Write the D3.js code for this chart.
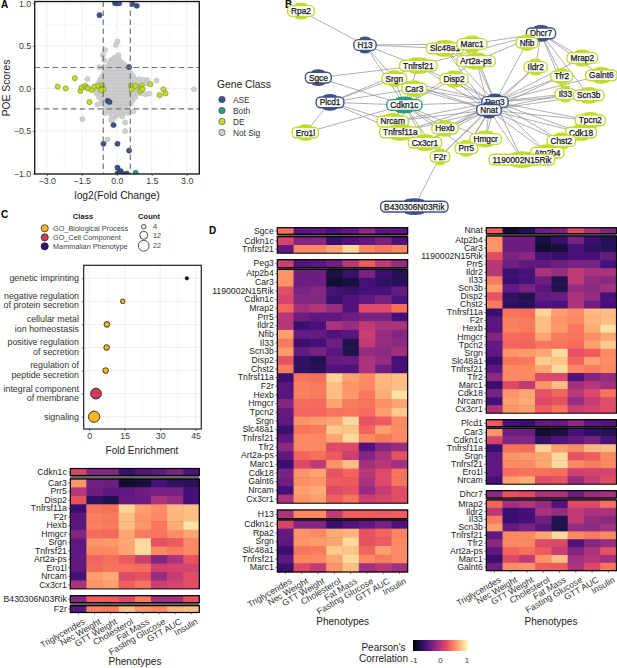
<!DOCTYPE html>
<html lang="en">
<head>
<meta charset="utf-8">
<script src="https://d3js.org/d3.v7.min.js"></script>
<style>
  body { margin: 0; background: #fff; }
  text { font-family: "Liberation Sans", Arial, sans-serif; }
</style>
</head>
<body>
<script>
var width = 617, height = 668;

// ---------- panel A data: log2 fold change, POE score
var notSig = [[3.31,-.01],[1.71,.09],[1.3,.1],[1.24,-.07],[-1.47,-.36],[-1.26,.11],[.03,.55],[-.04,.51],[-.5,.45],[-.6,.39],[-.53,.33],[.07,.39],[-.74,.25],[.71,-.27],[.36,-.4],[.36,-.5],[-.4,-.6],[-.24,-.37],[-.07,-.33],[-.5,-.29],[-.83,-.19],[.29,-.29],[.5,-.29],[-.18,-.36],
  [-.1,.36],[.05,.35],[-.25,.33],[-.12,.33],[.02,.32],[.12,.33],[-.3,.3],[-.18,.3],[-.05,.29],[.08,.3],[.2,.3],[.28,.29],
  [-.42,.26],[-.3,.26],[-.17,.26],[-.05,.25],[.07,.26],[.18,.26],[.3,.26],[.4,.26],
  [-.5,.22],[-.38,.22],[-.25,.22],[-.13,.22],[0,.22],[.12,.22],[.24,.22],[.36,.22],[.46,.22],
  [-.55,.18],[-.43,.18],[-.3,.18],[-.18,.18],[-.06,.18],[.06,.18],[.18,.18],[.3,.18],[.42,.18],[.52,.18],[.6,.18],
  [-.62,.14],[-.5,.14],[-.37,.14],[-.24,.14],[-.12,.14],[0,.14],[.12,.14],[.24,.14],[.36,.14],[.48,.14],[.6,.14],[.7,.14],
  [-.72,.1],[-.58,.1],[-.45,.1],[-.32,.1],[-.2,.1],[-.08,.1],[.04,.1],[.16,.1],[.28,.1],[.4,.1],[.52,.1],[.66,.1],[.78,.1],[.95,.11],[1.12,.1],
  [-.8,.06],[-.66,.06],[-.52,.06],[-.4,.06],[-.27,.06],[-.14,.06],[-.02,.06],[.1,.06],[.22,.06],[.34,.06],[.46,.06],[.6,.06],[.75,.07],[.9,.07],[1.25,.06],
  [-.85,.02],[-.72,.02],[-.5,.02],[-.36,.02],[-.22,.02],[-.1,.02],[.02,.02],[.14,.02],[.26,.02],[.38,.02],[.5,.02],[.7,.02],[.88,.02],
  [-.9,-.02],[-.75,-.02],[-.48,-.02],[-.34,-.02],[-.2,-.02],[-.07,-.02],[.05,-.02],[.17,-.02],[.29,-.02],[.41,-.02],[.53,-.02],[.72,-.02],[.9,-.03],
  [-.86,-.06],[-.72,-.06],[-.58,-.06],[-.44,-.06],[-.3,-.06],[-.17,-.06],[-.04,-.06],[.08,-.06],[.2,-.06],[.32,-.06],[.44,-.06],[.58,-.06],[.72,-.06],[.88,-.06],[1.06,-.06],[1.4,-.06],
  [-.76,-.1],[-.62,-.1],[-.48,-.1],[-.35,-.1],[-.22,-.1],[-.09,-.1],[.03,-.1],[.15,-.1],[.27,-.1],[.39,-.1],[.51,-.1],[.65,-.1],[.8,-.1],
  [-.66,-.14],[-.52,-.14],[-.2,-.14],[-.06,-.14],[.06,-.14],[.18,-.14],[.3,-.14],[.42,-.14],[.55,-.14],[.68,-.14],
  [-.6,-.18],[-.46,-.18],[-.22,-.18],[-.1,-.18],[.02,-.18],[.14,-.18],[.26,-.18],[.38,-.18],[.5,-.18],[.6,-.18],
  [-.48,-.22],[-.35,-.22],[-.22,-.22],[-.1,-.22],[.02,-.22],[.14,-.22],[.26,-.22],[.38,-.22],[.48,-.22],
  [-.36,-.26],[-.22,-.26],[-.1,-.26],[.02,-.26],[.14,-.26],[.26,-.26],[.38,-.26],
  [-.25,-.3],[-.12,-.31],[.03,-.3],[.16,-.31],[.24,-.33]];
var de = [[-2.53,.02],[-2.19,0],[-1.8,.12],[-1.56,-.03],[-1.51,.01],[-1.36,.03],[-1.29,.01],[-1.23,0],[-1.07,-.02],[-1.17,-.16],[-.96,.02],[-.79,.03],[-.63,.035],[-.63,0],[-.57,-.01],[-.67,-.02],[.61,.03],[.64,-.01],[.8,.03],[1.07,.035],[1.04,0],[1,-.03],[1.11,-.01],[1.44,.05],[2,-.01],[2.09,-.06],[1.84,-.08]];
var ase = [[-.07,1],[.03,1],[.1,1],[.67,.99],[.86,.97],[-.74,.86],[.53,.25],[-.39,-.145],[-.31,-.16],[-.14,-.43],[-.57,-.65],[.03,-.65],[.53,-.73],[.03,-.93],[.1,-.99],[.17,-.97],[.24,-1],[.43,-1],[.03,-1],[.13,-1]];
var both = [[.81,-.99]];
var xCutoffs = [-.58, .58], yCutoffs = [-.24, .245];
var classNames = ["ASE", "Both", "DE", "Not Sig"];
var classColors = ["#3f5288", "#2a9d80", "#c3dc2b", "#cfcfcf"];

// ---------- panel C data
var termNames = [["genetic imprinting"],["negative regulation","of protein secretion"],["cellular metal","ion homeostasis"],["positive regulation","of secretion"],["regulation of","peptide secretion"],["integral component","of membrane"],["signaling"]];
var termEnrichment = [41.3, 14.2, 7.5, 7.4, 7.0, 2.9, 2.1];
var termCount = [2, 4, 6, 6, 6, 22, 24];
var termClass = [2, 0, 0, 0, 0, 1, 0];
var goClasses = ["GO_Biological Process", "GO_Cell Component", "Mammalian Phenotype"];
var goColors = ["#fbb61f", "#c73e5c", "#3b0f70"];
var countLegend = [4, 12, 22];

// ---------- panel D data: Pearson correlation per phenotype
var phenotypes = ["Triglycerides","Nec Weight","GTT Weight","Cholesterol","Fat Mass","Fasting Glucose","GTT AUC","Insulin"];
var Cdkn1c   = [.15,-.25,-.25,-.62,-.5,-.42,-.3,-.52];
var Car3     = [.55,-.35,-.35,-.82,-.78,-.55,-.65,-.68];
var Prr5     = [0,-.35,-.42,-.42,-.35,-.3,-.3,-.55];
var Disp2    = [.25,-.65,-.72,-.4,-.38,-.05,-.15,-.55];
var Tnfrsf11a= [-.6,.42,.4,.82,.6,.52,.7,.72];
var F2r      = [-.45,.47,.45,.72,.55,.5,.68,.72];
var Hexb     = [-.45,.47,.45,.72,.57,.43,.65,.88];
var Hmgcr    = [-.25,.38,.37,.62,.45,.42,.53,.62];
var Srgn     = [-.42,.55,.58,.62,.85,.25,.3,.5];
var Tnfrsf21 = [-.42,.5,.5,.62,.85,.5,.45,.5];
var Art2a    = [-.42,.35,.4,.3,.1,-.25,-.05,.25];
var Ero1l    = [-.42,.38,.42,.4,.38,.12,.15,.15];
var Nrcam    = [-.55,.6,.65,.2,.25,-.15,.08,.22];
var Cx3cr1   = [-.05,.55,.6,.32,.42,.1,.15,.22];
var B430     = [-.25,.3,.3,.2,.45,-.1,-.1,.25];
var Sgce     = [.4,-.45,-.42,-.5,-.42,-.2,-.45,-.45];
var Peg3     = [.1,-.5,-.45,-.35,0,.3,.05,-.15];
var Atp2b4   = [.55,-.35,-.35,-.76,-.62,-.3,-.6,-.7];
var N15Rik   = [.22,-.3,-.22,-.55,-.62,-.55,-.55,-.4];
var Mrap2    = [.35,-.1,-.02,-.15,-.5,.2,.2,.4];
var Ildr2    = [0,-.6,-.55,-.05,-.15,.05,-.05,-.05];
var Nfib     = [.6,-.4,-.4,-.5,-.45,.1,-.15,-.25];
var Il33     = [.45,-.6,-.55,-.35,-.72,.05,-.15,-.2];
var Scn3b    = [.58,-.4,-.3,-.45,-.72,-.15,-.2,-.1];
var Chst2    = [.45,-.65,-.68,-.5,-.52,-.05,-.35,-.55];
var Tpcn2    = [-.4,.35,.35,.42,.42,.38,.6,.78];
var Slc48a1  = [-.6,.42,.45,.78,.75,.35,.6,.52];
var Tfr2     = [-.2,.5,.5,.2,.2,-.5,-.25,-.15];
var Marc1    = [-.6,.2,.05,.55,.72,-.1,0,-.1];
var Cdk18    = [-.3,.55,.62,.25,.35,0,.2,.42];
var Galnt6   = [-.35,.52,.55,.32,.3,-.05,.2,.42];
var H13      = [-.05,.5,.5,.05,.32,.32,.3,.32];
var Rpa2     = [-.4,.55,.5,.65,.68,.25,.35,.48];
var Nnat     = [.3,-.8,-.7,-.35,-.3,.2,-.05,-.25];
var Plcd1    = [.3,-.55,-.6,-.4,-.4,-.2,-.45,-.5];
var Dhcr7    = [-.2,.25,.2,-.05,-.05,-.35,-.15,-.1];

var geneValues = new Map([["Cdkn1c",Cdkn1c],["Car3",Car3],["Prr5",Prr5],["Disp2",Disp2],["Tnfrsf11a",Tnfrsf11a],["F2r",F2r],["Hexb",Hexb],["Hmgcr",Hmgcr],["Srgn",Srgn],["Tnfrsf21",Tnfrsf21],["Art2a-ps",Art2a],["Ero1l",Ero1l],["Nrcam",Nrcam],["Cx3cr1",Cx3cr1],["B430306N03Rik",B430],["Sgce",Sgce],["Peg3",Peg3],["Atp2b4",Atp2b4],["1190002N15Rik",N15Rik],["Mrap2",Mrap2],["Ildr2",Ildr2],["Nfib",Nfib],["Il33",Il33],["Scn3b",Scn3b],["Chst2",Chst2],["Tpcn2",Tpcn2],["Slc48a1",Slc48a1],["Tfr2",Tfr2],["Marc1",Marc1],["Cdk18",Cdk18],["Galnt6",Galnt6],["H13",H13],["Rpa2",Rpa2],["Nnat",Nnat],["Plcd1",Plcd1],["Dhcr7",Dhcr7]]);

// which genes each imprinted gene correlates with (heatmap rows and network edges)
var cdkn1cGenes = ["Car3","Prr5","Disp2","Tnfrsf11a","F2r","Hexb","Hmgcr","Srgn","Tnfrsf21","Art2a-ps","Ero1l","Nrcam","Cx3cr1"];
var b430Genes = ["F2r"];
var sgceGenes = ["Cdkn1c","Tnfrsf21"];
var peg3Genes = ["Atp2b4","Car3","1190002N15Rik","Cdkn1c","Mrap2","Prr5","Ildr2","Nfib","Il33","Scn3b","Disp2","Chst2","Tnfrsf11a","F2r","Hexb","Hmgcr","Tpcn2","Srgn","Slc48a1","Tnfrsf21","Tfr2","Art2a-ps","Marc1","Cdk18","Galnt6","Nrcam","Cx3cr1"];
var h13Genes = ["Cdkn1c","Rpa2","Srgn","Slc48a1","Tnfrsf21","Marc1"];
var nnatGenes = ["Atp2b4","Car3","1190002N15Rik","Prr5","Ildr2","Il33","Scn3b","Disp2","Chst2","Tnfrsf11a","F2r","Hexb","Hmgcr","Tpcn2","Srgn","Slc48a1","Tnfrsf21","Tfr2","Marc1","Cdk18","Nrcam","Cx3cr1"];
var plcd1Genes = ["Car3","Cdkn1c","Tnfrsf11a","Srgn","Tnfrsf21","Ero1l","Nrcam"];
var dhcr7Genes = ["Mrap2","Ildr2","Il33","Scn3b","Tnfrsf21","Tfr2","Art2a-ps","Marc1","Galnt6"];

// ---------- panel B data: network layout units
var nodeNames = ["Rpa2","H13","Slc48a1","Marc1","Dhcr7","Nfib","Mrap2","Tnfrsf21","Art2a-ps","Ildr2","Galnt6","Tfr2","Sgce","Srgn","Disp2","Car3","Il33","Scn3b","Plcd1","Cdkn1c","Peg3","Nnat","Nrcam","Tnfrsf11a","Hexb","Tpcn2","Cdk18","Ero1l","Cx3cr1","Hmgcr","Chst2","Prr5","Atp2b4","F2r","1190002N15Rik","B430306N03Rik"];
var nodeU = [33,225,465,546,753,711,877,385,558,737,934,815,85,313,492,373,826,896,120,343,615,597,308,331,465,901,873,46,405,587,814,529,772,450,696,373];
var nodeV = [33,135,145,132,100,128,174,197,183,201,226,229,233,236,237,266,282,286,307,315,306,330,364,397,385,361,398,398,428,417,423,445,458,470,479,620];
var aseNodes = ["H13","Dhcr7","Sgce","Plcd1","Peg3","Nnat","B430306N03Rik"];
var hubEdges = [["Sgce",sgceGenes],["Peg3",peg3Genes],["H13",h13Genes],["Nnat",nnatGenes],["Plcd1",plcd1Genes],["Dhcr7",dhcr7Genes],["Cdkn1c",cdkn1cGenes],["B430306N03Rik",b430Genes]];

var svg = d3.select("body").append("svg").attr("width", width).attr("height", height);

function panelLetter(t, x, y) {
  svg.append("text").attr("x", x).attr("y", y).attr("font-size", 10).attr("font-weight", "bold").text(t);
}
panelLetter("A", 1, 8);
panelLetter("B", 285, 8);
panelLetter("C", 1, 218);
panelLetter("D", 209, 234);

// panel A -- volcano style scatter
var ax = d3.scaleLinear().domain([-3.52, 3.54]).range([34.7, 199.3]);
var ay = d3.scaleLinear().domain([-1.005, 1.02]).range([174, 1.5]);

var gA = svg.append("g");
gA.selectAll(".minorx").data([-2.25,-.75,.75,2.25]).enter().append("line")
  .attr("x1", ax).attr("x2", ax).attr("y1", 1).attr("y2", 174).attr("stroke", "#f2f2f2").attr("stroke-width", .5);
gA.selectAll(".minory").data([-.75,-.25,.25,.75]).enter().append("line")
  .attr("y1", ay).attr("y2", ay).attr("x1", 34.7).attr("x2", 199.3).attr("stroke", "#f2f2f2").attr("stroke-width", .5);
gA.selectAll(".majorx").data([-3,-1.5,0,1.5,3]).enter().append("line")
  .attr("x1", ax).attr("x2", ax).attr("y1", 1).attr("y2", 174).attr("stroke", "#ebebeb").attr("stroke-width", .8);
gA.selectAll(".majory").data([-1,-.5,0,.5,1]).enter().append("line")
  .attr("y1", ay).attr("y2", ay).attr("x1", 34.7).attr("x2", 199.3).attr("stroke", "#ebebeb").attr("stroke-width", .8);

svg.append("clipPath").attr("id", "clipA").append("rect").attr("x", 34.7).attr("y", 1.5).attr("width", 164.6).attr("height", 172.5);
var ptsA = gA.append("g").attr("clip-path", "url(#clipA)");
function scatter(rows, fill, stroke) {
  ptsA.selectAll(null).data(rows).enter().append("circle")
    .attr("cx", function(d) { return ax(d[0]); })
    .attr("cy", function(d) { return ay(d[1]); })
    .attr("r", 2.6).attr("fill", fill).attr("stroke", stroke).attr("stroke-width", .5);
}
scatter(notSig, classColors[3], "#bcbcbc");
scatter(de, classColors[2], "#6a7520");
scatter(ase, classColors[0], "#2c3a66");
scatter(both, classColors[1], "#1b6a57");

gA.selectAll(".cutx").data(xCutoffs).enter().append("line")
  .attr("x1", ax).attr("x2", ax).attr("y1", 1.5).attr("y2", 174)
  .attr("stroke", "#737373").attr("stroke-width", 1.2).attr("stroke-dasharray", "5.5,3.5");
gA.selectAll(".cuty").data(yCutoffs).enter().append("line")
  .attr("y1", ay).attr("y2", ay).attr("x1", 34.7).attr("x2", 199.3)
  .attr("stroke", "#737373").attr("stroke-width", 1.2).attr("stroke-dasharray", "5.5,3.5");

function styleAxis(g, size) {
  g.select(".domain").remove();
  g.selectAll(".tick line").attr("stroke", "#333").attr("stroke-width", .7);
  g.selectAll(".tick text").attr("fill", "#3a3a3a").attr("font-size", size)
    .attr("font-family", '"Liberation Sans", Arial, sans-serif');
}
styleAxis(svg.append("g").attr("transform", "translate(0,174)")
  .call(d3.axisBottom(ax).tickValues([-3,-1.5,0,1.5,3]).tickFormat(d3.format(".1f")).tickSize(2).tickPadding(2)), 8.8);
styleAxis(svg.append("g").attr("transform", "translate(34.7,0)")
  .call(d3.axisLeft(ay).tickValues([-1,-.5,0,.5,1]).tickFormat(d3.format(".1f")).tickSize(2).tickPadding(1.5)), 8.8);
svg.append("rect").attr("x", 34.7).attr("y", 1.5).attr("width", 164.6).attr("height", 172.5)
  .attr("fill", "none").attr("stroke", "#111").attr("stroke-width", 1.3);

svg.append("text").attr("transform", "translate(9.5,88) rotate(-90)").attr("text-anchor", "middle")
  .attr("font-size", 10.3).attr("fill", "#222").text("POE Scores");
svg.append("text").attr("x", 117).attr("y", 199).attr("text-anchor", "middle")
  .attr("font-size", 10.3).attr("fill", "#222").text("log2(Fold Change)");

svg.append("text").attr("x", 217).attr("y", 88).attr("font-size", 10.3).attr("fill", "#222").text("Gene Class");
var legendY = d3.scalePoint().domain(classNames).range([99.5, 132.5]);
classNames.forEach(function(name, i) {
  svg.append("circle").attr("cx", 222).attr("cy", legendY(name)).attr("r", 3.2)
    .attr("fill", classColors[i]).attr("stroke", "#444").attr("stroke-width", .6);
  svg.append("text").attr("x", 233).attr("y", legendY(name) + 3).attr("font-size", 8.3).attr("fill", "#333").text(name);
});

// panel B -- network
var nu = d3.scaleLinear().domain([0, 981]).range([290, 617]);
var nv = d3.scaleLinear().domain([0, 645]).range([0, 215]);
var nodePos = new Map(nodeNames.map(function(n, i) { return [n, [nu(nodeU[i]), nv(nodeV[i])]]; }));

var gB = svg.append("g");
hubEdges.forEach(function(h) {
  var a = nodePos.get(h[0]);
  h[1].forEach(function(t) {
    var b = nodePos.get(t);
    gB.append("line").attr("x1", a[0]).attr("y1", a[1]).attr("x2", b[0]).attr("y2", b[1])
      .attr("stroke", "#8c8c8c").attr("stroke-width", .7);
  });
});
var nodeColor = function(n) {
  if (n == "Cdkn1c") return classColors[1];
  return aseNodes.indexOf(n) >= 0 ? classColors[0] : classColors[2];
};
nodeNames.forEach(function(n) {
  var p = nodePos.get(n), g = gB.append("g").attr("transform", "translate(" + p[0] + "," + p[1] + ")");
  var label = g.append("text").attr("y", 2.9).attr("text-anchor", "middle").attr("font-size", 8.3)
    .attr("fill", "#151515").attr("stroke", "#151515").attr("stroke-width", .25).text(n);
  var w = label.node().getComputedTextLength() + 7;
  var c = nodeColor(n);
  g.insert("ellipse", "text").attr("cy", -5.8).attr("rx", w * .25 < 10 ? w * .25 : 10).attr("ry", 2.6).attr("fill", c);
  g.insert("ellipse", "text").attr("cy", 5.8).attr("rx", w * .25 < 10 ? w * .25 : 10).attr("ry", 2.6).attr("fill", c);
  g.insert("rect", "text").attr("x", -w / 2).attr("y", -5.4).attr("width", w).attr("height", 10.8)
    .attr("rx", 4.5).attr("fill", "#fff").attr("stroke", c).attr("stroke-width", 1.4);
});

// panel C -- enrichment dot plot
var cx = d3.scaleLinear().domain([-2.3, 47.4]).range([83.7, 201.3]);
var cy = d3.scalePoint().domain(d3.range(termNames.length)).range([278.3, 416.7]);
var cr = d3.scaleSqrt().domain([0, 22]).range([0, 5.4]);

var gC = svg.append("g");
gC.selectAll(".mx").data([7.5,22.5,37.5]).enter().append("line")
  .attr("x1", cx).attr("x2", cx).attr("y1", 265.3).attr("y2", 429).attr("stroke", "#f3f3f3").attr("stroke-width", .5);
gC.selectAll(".gx").data([0,15,30,45]).enter().append("line")
  .attr("x1", cx).attr("x2", cx).attr("y1", 265.3).attr("y2", 429).attr("stroke", "#ebebeb").attr("stroke-width", .8);
gC.selectAll(".gy").data(d3.range(termNames.length)).enter().append("line")
  .attr("y1", cy).attr("y2", cy).attr("x1", 83.7).attr("x2", 201.3).attr("stroke", "#ebebeb").attr("stroke-width", .8);
gC.selectAll(".dot").data(d3.range(termNames.length)).enter().append("circle")
  .attr("cx", function(i) { return cx(termEnrichment[i]); })
  .attr("cy", cy)
  .attr("r", function(i) { return cr(termCount[i]); })
  .attr("fill", function(i) { return i == 0 ? "#111" : goColors[termClass[i]]; })
  .attr("stroke", "#111").attr("stroke-width", .8);

styleAxis(svg.append("g").attr("transform", "translate(0,429)")
  .call(d3.axisBottom(cx).tickValues([0,15,30,45]).tickSize(2).tickPadding(2)), 8.8);
var yTicks = svg.append("g").attr("transform", "translate(83.7,0)")
  .call(d3.axisLeft(cy).tickFormat("").tickSize(2));
styleAxis(yTicks, 8.8);
termNames.forEach(function(lines, i) {
  var t = svg.append("text").attr("text-anchor", "end").attr("font-size", 8.9).attr("fill", "#333");
  var top = cy(i) + 3 - (lines.length - 1) * 9.2 / 2 - (lines.length > 1 ? .5 : 0);
  lines.forEach(function(s, j) {
    t.append("tspan").attr("x", 79).attr("y", top + j * 9.2).text(s);
  });
});
svg.append("rect").attr("x", 83.7).attr("y", 265.3).attr("width", 117.6).attr("height", 163.7)
  .attr("fill", "none").attr("stroke", "#222").attr("stroke-width", 1.2);
svg.append("text").attr("x", 142).attr("y", 454).attr("text-anchor", "middle")
  .attr("font-size", 10).attr("fill", "#222").text("Fold Enrichment");

svg.append("text").attr("x", 83).attr("y", 219).attr("text-anchor", "middle").attr("font-size", 7.6)
  .attr("font-weight", "bold").attr("fill", "#222").text("Class");
svg.append("text").attr("x", 149).attr("y", 219).attr("text-anchor", "middle").attr("font-size", 7.6)
  .attr("font-weight", "bold").attr("fill", "#222").text("Count");
var goLegendY = d3.scalePoint().domain(goClasses).range([228.3, 246.3]);
goClasses.forEach(function(name, i) {
  svg.append("circle").attr("cx", 44.7).attr("cy", goLegendY(name)).attr("r", 3.6)
    .attr("fill", goColors[i]).attr("stroke", "#222").attr("stroke-width", .7);
  svg.append("text").attr("x", 53).attr("y", goLegendY(name) + 2.5).attr("font-size", 7.3).attr("fill", "#444").text(name);
});
var countLegendY = d3.scaleOrdinal().domain(countLegend).range([226.7, 235.3, 245.7]);
countLegend.forEach(function(c) {
  svg.append("circle").attr("cx", 143.7).attr("cy", countLegendY(c)).attr("r", cr(c))
    .attr("fill", "#fff").attr("stroke", "#222").attr("stroke-width", .8);
  svg.append("text").attr("x", 153).attr("y", countLegendY(c) + 2.5).attr("font-size", 7.3).attr("fill", "#444").text(c);
});

// panel D -- heatmaps
var colorScale = d3.scaleSequential(d3.interpolateMagma).domain([-1, 1]);

function heatmap(x0, x1, blocks, labelY, labelX) {
  var colX = d3.scaleBand().domain(phenotypes).range([x0, x1]);
  var g = svg.append("g");
  // dark band behind the gaps between stacked blocks
  g.append("rect").attr("x", x0).attr("y", blocks[0].y0).attr("width", x1 - x0)
    .attr("height", blocks[blocks.length - 1].y1 - blocks[0].y0).attr("fill", "#6a6a6a");
  blocks.forEach(function(b, bi) {
    var rowY = d3.scaleBand().domain(b.genes).range([b.y0, b.y1]);
    if (b.breakBefore) {
      g.append("rect").attr("x", x0 - .5).attr("y", b.breakBefore[0]).attr("width", x1 - x0 + 1)
        .attr("height", b.breakBefore[1] - b.breakBefore[0]).attr("fill", "#fff");
    }
    b.genes.forEach(function(gene) {
      g.selectAll(null).data(geneValues.get(gene)).enter().append("rect")
        .attr("x", function(d, i) { return colX(phenotypes[i]); })
        .attr("y", rowY(gene))
        .attr("width", colX.bandwidth() + .3)
        .attr("height", rowY.bandwidth() + .3)
        .attr("fill", function(d) { return colorScale(d); });
    });
    g.append("rect").attr("x", x0).attr("y", b.y0).attr("width", x1 - x0).attr("height", b.y1 - b.y0)
      .attr("fill", "none").attr("stroke", "#000").attr("stroke-width", 1.2);
    var ax0 = g.append("g").attr("transform", "translate(" + x0 + ",0)")
      .call(d3.axisLeft(rowY).tickSize(2).tickPadding(1.5));
    styleAxis(ax0, 8.7);
    ax0.selectAll(".tick text").attr("fill", "#222");
  });
  var bottom = blocks[blocks.length - 1].y1;
  var axb = g.append("g").attr("transform", "translate(0," + bottom + ")")
    .call(d3.axisBottom(colX).tickSize(2).tickPadding(2));
  styleAxis(axb, 8.8);
  axb.selectAll(".tick text")
    .attr("text-anchor", "end")
    .attr("transform", "translate(2,2) rotate(-30)")
    .attr("fill", "#333");
  svg.append("text").attr("x", labelX).attr("y", labelY).attr("text-anchor", "middle")
    .attr("font-size", 10).attr("fill", "#222").text("Phenotypes");
}

function gap(y0, y1) { return [y0, y1]; }

heatmap(70.3, 199.3, [
  { genes: ["Cdkn1c"], y0: 468.5, y1: 475.5 },
  { genes: cdkn1cGenes, y0: 479, y1: 589 },
  { genes: ["B430306N03Rik"], y0: 595.7, y1: 602.7, breakBefore: gap(589.5, 595.2) },
  { genes: b430Genes, y0: 605.7, y1: 612.5 }
], 665, 135);

heatmap(277.3, 407.7, [
  { genes: ["Sgce"], y0: 227.7, y1: 234.3 },
  { genes: sgceGenes, y0: 236.7, y1: 253.3 },
  { genes: ["Peg3"], y0: 259.7, y1: 267.7, breakBefore: gap(253.8, 259.2) },
  { genes: peg3Genes, y0: 269.3, y1: 503.3 },
  { genes: ["H13"], y0: 510, y1: 518.7, breakBefore: gap(503.8, 509.5) },
  { genes: h13Genes, y0: 520, y1: 572 }
], 625, 342.7);

heatmap(486.3, 616.5, [
  { genes: ["Nnat"], y0: 227.7, y1: 233.7 },
  { genes: nnatGenes, y0: 236, y1: 413.3 },
  { genes: ["Plcd1"], y0: 419.7, y1: 426.7, breakBefore: gap(413.8, 419.2) },
  { genes: plcd1Genes, y0: 428.3, y1: 484.3 },
  { genes: ["Dhcr7"], y0: 490.7, y1: 498, breakBefore: gap(484.8, 490.2) },
  { genes: dhcr7Genes, y0: 500, y1: 570.7 }
], 625, 551);

// colour bar
var barScale = d3.scaleLinear().domain([-1, 1]).range([414, 467]);
var defs = svg.append("defs").append("linearGradient").attr("id", "corrBar");
d3.range(0, 1.001, .1).forEach(function(t) {
  defs.append("stop").attr("offset", t).attr("stop-color", d3.interpolateMagma(t));
});
svg.append("rect").attr("x", 413).attr("y", 640).attr("width", 55).attr("height", 11).attr("fill", "url(#corrBar)");
[-1, 0, 1].forEach(function(v) {
  svg.append("text").attr("x", barScale(v)).attr("y", 662.5).attr("text-anchor", "middle")
    .attr("font-size", 7.8).attr("fill", "#333").text(v);
});
svg.append("text").attr("x", 383.5).attr("y", 650.5).attr("text-anchor", "middle").attr("font-size", 10).attr("fill", "#222").text("Pearson's");
svg.append("text").attr("x", 383.5).attr("y", 661.5).attr("text-anchor", "middle").attr("font-size", 10).attr("fill", "#222").text("Correlation");
</script>
</body>
</html>
